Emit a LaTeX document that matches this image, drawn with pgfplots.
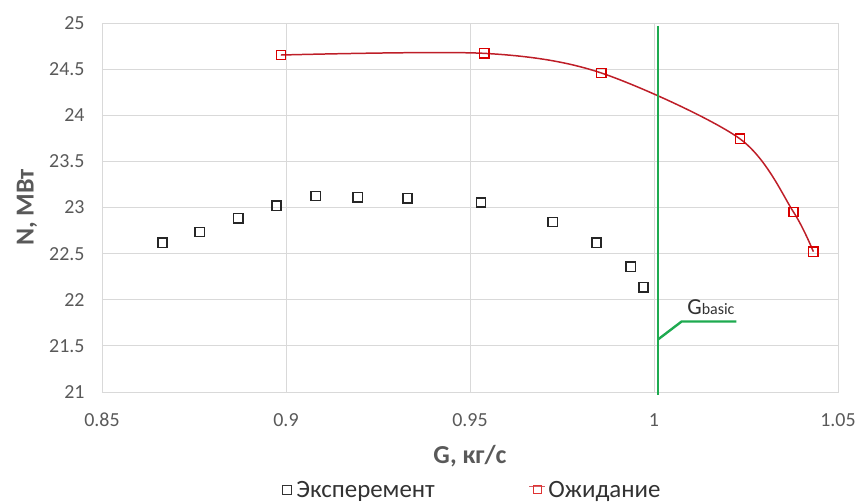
\documentclass[border=0pt]{standalone}
\usepackage{fontspec}
\setmainfont{Carlito}
\usepackage{pgfplots}
\pgfplotsset{compat=1.18}
\definecolor{gridgray}{RGB}{217,217,217}
\definecolor{ticktext}{RGB}{89,89,89}
\definecolor{labeltext}{RGB}{50,50,50}
\definecolor{redline}{RGB}{190,30,40}
\definecolor{greenline}{RGB}{30,170,80}
\begin{document}
\begin{tikzpicture}
\useasboundingbox (-102bp,-111bp) rectangle (758bp,392bp);
\begin{axis}[
  at={(0,0)}, anchor=south west,
  scale only axis, width=736bp, height=369bp,
  xmin=0.85, xmax=1.05, ymin=21, ymax=25,
  xtick={0.85,0.9,0.95,1,1.05},
  ytick={21,21.5,22,22.5,23,23.5,24,24.5,25},
  grid=major,
  major grid style={gridgray, line width=0.9pt},
  axis line style={gridgray, line width=0.9pt},
  tick style={draw=none},
  /pgf/number format/assume math mode=true,
  ticklabel style={font=\fontsize{20}{22}\selectfont, text=ticktext},
  xticklabel style={anchor=center, yshift=-28bp},
  yticklabel style={anchor=east, xshift=-14bp},
  xlabel={G, кг/с},
  ylabel={N, МВт},
  label style={font=\bfseries\fontsize{26}{28}\selectfont, text=ticktext},
  xlabel style={at={(axis description cs:0.5,-0.175)}, anchor=center},
  ylabel style={at={(axis description cs:-0.102,0.5)}, anchor=center},
  legend style={at={(axis description cs:0.5,-0.265)}, anchor=center,
    draw=none, fill=none, legend columns=2,
    font=\fontsize{25}{27}\selectfont, text=labeltext,
    /tikz/every even column/.append style={column sep=92bp}},
  legend cell align=left,
  clip=false,
]
\addplot[only marks, mark=square, mark size=4.6bp, black!85, line width=1.6pt,
  mark options={fill=white},
  legend image code/.code={\path[draw=none] (0,0) -- (0.6cm,0);
    \draw[black!80, line width=1.1pt, fill=white] (0.6cm-12bp,-4.5bp) rectangle (0.6cm-3bp,4.5bp);}]
  coordinates {
  (0.8664,22.618) (0.8766,22.734) (0.8870,22.883) (0.8974,23.019)
  (0.9081,23.125) (0.9195,23.111) (0.9330,23.100) (0.9530,23.056)
  (0.9725,22.843) (0.9844,22.618) (0.9937,22.358) (0.9971,22.135)
  };
\addlegendentry{Эксперемент}
\addplot[redline, line width=1.5pt, smooth, tension=0.5, mark=square,
  mark size=4.6bp, mark options={fill=none, draw=red!85!black, line width=1.3pt},
  legend image code/.code={\path[draw=none] (0,0) -- (0.6cm,0);
    \draw[redline!70, line width=1.2pt] (0.6cm-17bp,0) -- (0.6cm-1bp,0);
    \draw[red!85!black!80, line width=1.0pt] (0.6cm-13bp,-4bp) rectangle (0.6cm-5bp,4bp);}]
  coordinates {
  (0.8986,24.653) (0.9539,24.671) (0.9857,24.458) (1.0233,23.746)
  (1.0379,22.951) (1.0433,22.521)
  };
\addlegendentry{Ожидание}
\addplot[greenline, line width=2.6pt, forget plot] coordinates {(1.0011,24.97) (1.0011,20.965)};
\addplot[greenline, line width=2.4pt, forget plot] coordinates {(1.0011,21.57) (1.0075,21.764) (1.0224,21.764)};
\node[anchor=base west, inner sep=0pt, text=labeltext] at (axis cs:1.0090,21.835)
  {\fontsize{23}{24}\selectfont G\fontsize{16}{18}\selectfont basic};
\end{axis}
\end{tikzpicture}
\end{document}
